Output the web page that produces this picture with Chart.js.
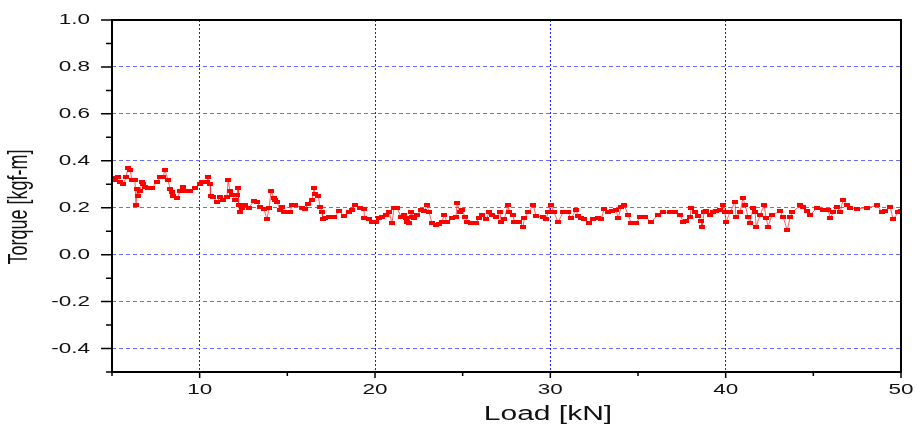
<!DOCTYPE html>
<html>
<head>
<meta charset="utf-8">
<script src="https://cdn.jsdelivr.net/npm/chart.js@4.4.1/dist/chart.umd.min.js"></script>
<style>
  html, body { margin: 0; padding: 0; background: #fff; }
  #wrap { width: 917px; height: 431px; }
</style>
</head>
<body>
<div id="wrap"><canvas id="grafico" width="917" height="431"></canvas></div>
<script>
// datos
const cargas = [
  5.06, 5.17, 5.34, 5.46, 5.63, 5.80, 5.91, 6.03, 6.14, 6.31, 6.37, 6.43, 6.48, 6.60, 6.71, 6.77, 6.88, 7.05, 7.28, 7.57,
  7.74, 7.91, 8.02, 8.19, 8.31, 8.42, 8.48, 8.71, 8.88, 9.05, 9.22, 9.45, 9.73, 10.02, 10.13, 10.42, 10.48, 10.59, 10.62, 10.76,
  10.99, 11.16, 11.33, 11.56, 11.62, 11.73, 11.85, 12.02, 12.13, 12.19, 12.22, 12.30, 12.42, 12.59, 12.82, 13.10, 13.27, 13.44, 13.67, 13.84,
  13.96, 14.07, 14.24, 14.30, 14.41, 14.58, 14.70, 14.81, 14.98, 15.15, 15.27, 15.44, 15.84, 16.01, 16.18, 16.41, 16.52, 16.58, 16.75, 16.87,
  16.98, 17.01, 17.15, 17.38, 17.66, 17.95, 18.23, 18.52, 18.69, 18.86, 19.15, 19.37, 19.40, 19.66, 19.83, 20.06, 20.23, 20.40, 20.63, 20.80,
  20.97, 21.09, 21.26, 21.49, 21.66, 21.77, 21.83, 21.94, 22.06, 22.11, 22.23, 22.40, 22.63, 22.80, 22.97, 23.08, 23.25, 23.48, 23.65, 23.83,
  23.94, 24.11, 24.40, 24.62, 24.68, 24.85, 24.97, 25.14, 25.25, 25.48, 25.76, 25.94, 26.11, 26.34, 26.51, 26.68, 26.91, 27.13, 27.19, 27.36,
  27.59, 27.65, 27.88, 27.94, 28.22, 28.45, 28.51, 28.73, 29.02, 29.19, 29.59, 29.76, 29.87, 30.04, 30.21, 30.44, 30.73, 31.01, 31.18, 31.47,
  31.58, 31.75, 31.93, 32.21, 32.44, 32.72, 32.90, 33.07, 33.30, 33.52, 33.75, 33.87, 34.04, 34.21, 34.44, 34.61, 34.89, 35.12, 35.41, 35.75,
  36.15, 36.43, 36.83, 37.12, 37.40, 37.57, 37.74, 37.97, 38.03, 38.26, 38.43, 38.60, 38.65, 38.77, 38.88, 39.11, 39.28, 39.45, 39.68, 39.85,
  39.96, 40.02, 40.25, 40.53, 40.59, 40.82, 40.99, 41.11, 41.28, 41.39, 41.57, 41.68, 41.74, 41.97, 42.19, 42.31, 42.42, 42.65, 43.11, 43.28,
  43.51, 43.68, 43.79, 44.25, 44.42, 44.65, 44.82, 45.22, 45.56, 45.85, 45.96, 46.13, 46.36, 46.53, 46.70, 46.93, 47.10, 47.50, 48.07, 48.64,
  48.92, 49.10, 49.38, 49.55, 49.84, 50.00
];
const torques = [
  0.326, 0.32, 0.33, 0.31, 0.30, 0.33, 0.37, 0.36, 0.32, 0.32, 0.21, 0.28, 0.25, 0.27, 0.31, 0.30, 0.29, 0.285, 0.285, 0.31,
  0.33, 0.33, 0.36, 0.32, 0.28, 0.265, 0.25, 0.24, 0.27, 0.29, 0.27, 0.27, 0.285, 0.30, 0.31, 0.31, 0.33, 0.30, 0.25, 0.245,
  0.225, 0.245, 0.235, 0.245, 0.32, 0.27, 0.255, 0.235, 0.255, 0.285, 0.21, 0.18, 0.20, 0.21, 0.20, 0.23, 0.225, 0.205, 0.195, 0.15,
  0.20, 0.27, 0.24, 0.235, 0.225, 0.19, 0.205, 0.18, 0.18, 0.18, 0.21, 0.21, 0.20, 0.195, 0.215, 0.235, 0.285, 0.26, 0.25, 0.205,
  0.18, 0.15, 0.155, 0.16, 0.16, 0.185, 0.165, 0.18, 0.19, 0.21, 0.20, 0.195, 0.155, 0.15, 0.14, 0.14, 0.155, 0.16, 0.17, 0.18,
  0.135, 0.20, 0.20, 0.16, 0.17, 0.155, 0.14, 0.135, 0.18, 0.16, 0.155, 0.17, 0.19, 0.185, 0.21, 0.18, 0.135, 0.125, 0.13, 0.14,
  0.17, 0.14, 0.155, 0.16, 0.22, 0.18, 0.19, 0.16, 0.14, 0.135, 0.135, 0.155, 0.17, 0.15, 0.18, 0.17, 0.16, 0.18, 0.14, 0.15,
  0.21, 0.18, 0.17, 0.14, 0.14, 0.12, 0.155, 0.18, 0.21, 0.165, 0.16, 0.15, 0.18, 0.21, 0.18, 0.14, 0.18, 0.18, 0.155, 0.19,
  0.165, 0.155, 0.15, 0.135, 0.15, 0.155, 0.15, 0.195, 0.18, 0.185, 0.19, 0.155, 0.205, 0.21, 0.17, 0.135, 0.135, 0.16, 0.16, 0.14,
  0.17, 0.18, 0.18, 0.18, 0.17, 0.14, 0.145, 0.16, 0.20, 0.18, 0.165, 0.145, 0.12, 0.18, 0.185, 0.17, 0.18, 0.185, 0.19, 0.21,
  0.18, 0.14, 0.18, 0.225, 0.16, 0.18, 0.24, 0.21, 0.16, 0.135, 0.20, 0.18, 0.12, 0.17, 0.21, 0.155, 0.12, 0.17, 0.185, 0.16,
  0.105, 0.16, 0.18, 0.21, 0.205, 0.185, 0.17, 0.20, 0.19, 0.19, 0.155, 0.18, 0.205, 0.18, 0.235, 0.21, 0.20, 0.195, 0.20, 0.21,
  0.18, 0.185, 0.205, 0.15, 0.18, 0.185
];
const marcasX = [10, 20, 30, 40, 50];
const menoresX = [5, 15, 25, 35, 45];
const marcasY = [1.0, 0.8, 0.6, 0.4, 0.2, 0.0, -0.2, -0.4];
const menoresY = [0.9, 0.7, 0.5, 0.3, 0.1, -0.1, -0.3, -0.5];
const tituloX = 'Load [kN]';
const tituloY = 'Torque [kgf-m]';

// el original esta estirado a lo ancho
const estirar = 1.5;
const fuente = '"Liberation Sans", Arial, sans-serif';

// marcador rectangular rojo
const marcador = document.createElement('canvas');
marcador.width = 6;
marcador.height = 4;
const mctx = marcador.getContext('2d');
mctx.fillStyle = '#ff0000';
mctx.fillRect(0, 0, 6, 4);

function textoEstirado(ctx, texto, px, py, alinear, base) {
  ctx.save();
  ctx.translate(px, py);
  ctx.scale(estirar, 1);
  ctx.textAlign = alinear;
  ctx.textBaseline = base;
  ctx.fillText(texto, 0, 0);
  ctx.restore();
}

const decoracion = {
  id: 'decoracion',
  afterDraw(chart) {
    const { ctx, chartArea: a, scales: { x, y } } = chart;
    ctx.save();
    // marco
    ctx.strokeStyle = '#000';
    ctx.lineWidth = 2;
    ctx.strokeRect(a.left, a.top, a.right - a.left, a.bottom - a.top);

    // rayitas de los ejes
    ctx.lineWidth = 1.5;
    ctx.beginPath();
    marcasY.forEach(v => { const py = y.getPixelForValue(v); ctx.moveTo(a.left - 11, py); ctx.lineTo(a.left, py); });
    menoresY.forEach(v => { const py = y.getPixelForValue(v); ctx.moveTo(a.left - 6, py); ctx.lineTo(a.left, py); });
    marcasX.forEach(v => { const px = x.getPixelForValue(v); ctx.moveTo(px, a.bottom); ctx.lineTo(px, a.bottom + 6); });
    menoresX.forEach(v => { const px = x.getPixelForValue(v); ctx.moveTo(px, a.bottom); ctx.lineTo(px, a.bottom + 4); });
    ctx.stroke();

    // etiquetas
    ctx.fillStyle = '#111';
    ctx.font = '15px ' + fuente;
    marcasY.forEach(v => textoEstirado(ctx, v.toFixed(1), 90, y.getPixelForValue(v), 'right', 'middle'));
    marcasX.forEach(v => textoEstirado(ctx, String(v), x.getPixelForValue(v), a.bottom + 10, 'center', 'top'));

    // titulos
    ctx.font = '20px ' + fuente;
    textoEstirado(ctx, tituloX, 548, 414, 'center', 'middle');
    ctx.save();
    ctx.translate(20, 207);
    ctx.scale(estirar, 1);
    ctx.rotate(-Math.PI / 2);
    ctx.textAlign = 'center';
    ctx.textBaseline = 'middle';
    ctx.font = '18px ' + fuente;
    ctx.fillText(tituloY, 0, 0);
    ctx.restore();

    ctx.restore();
  }
};

new Chart(document.getElementById('grafico'), {
  type: 'scatter',
  data: {
    datasets: [{
      data: cargas.map((c, i) => ({ x: c, y: torques[i] })),
      showLine: true,
      borderColor: 'rgba(255, 30, 30, 0.7)',
      borderWidth: 1,
      pointStyle: marcador,
      pointRadius: 3
    }]
  },
  options: {
    responsive: false,
    animation: false,
    devicePixelRatio: 1,
    layout: { padding: { left: 0, right: 16, top: 20, bottom: 0 } },
    plugins: { legend: { display: false }, tooltip: { enabled: false } },
    scales: {
      x: {
        type: 'linear',
        min: 5,
        max: 50,
        ticks: { stepSize: 5, display: false },
        grid: {
          drawTicks: false,
          color: c => (c.tick && [10, 20, 30, 40].includes(c.tick.value)) ? '#1a1aff' : 'rgba(0,0,0,0)'
        },
        border: { display: false, dash: [2, 2] },
        afterFit(s) { s.height = 59; }
      },
      y: {
        min: -0.5,
        max: 1.0,
        ticks: { stepSize: 0.1, display: false },
        grid: {
          drawTicks: false,
          color: c => {
            const n = Math.round(c.tick.value * 10);
            return (n % 2 === 0 && n > -5 && n < 10) ? '#6a6aff' : 'rgba(0,0,0,0)';
          }
        },
        border: { display: false, dash: [4, 3] },
        afterFit(s) { s.width = 112; }
      }
    }
  },
  plugins: [decoracion]
});
</script>
</body>
</html>
